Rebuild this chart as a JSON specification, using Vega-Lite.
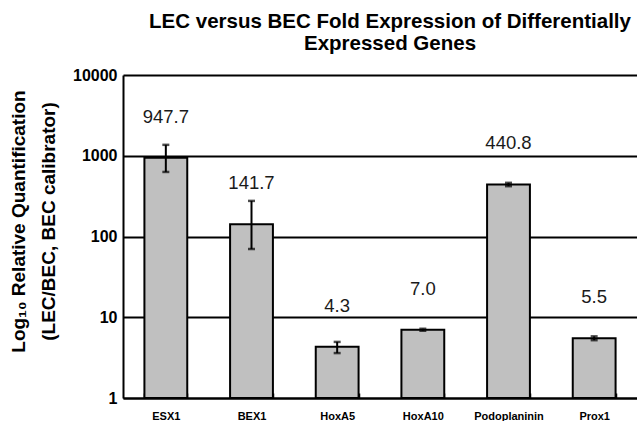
{
  "$schema": "https://vega.github.io/schema/vega-lite/v6.json",
  "autosize": {"type": "none"},
  "padding": {"left": 123, "top": 75, "right": 0, "bottom": 23},
  "width": 514,
  "height": 323,
  "background": "white",
  "title": {
    "text": ["LEC versus BEC Fold Expression of Differentially", "Expressed Genes"],
    "font": "Liberation Sans",
    "fontSize": 20.5,
    "fontWeight": "bold",
    "color": "black",
    "anchor": "middle",
    "dx": 10,
    "offset": 13,
    "lineHeight": 22
  },
  "data": {
    "values": [
      {"gene": "ESX1", "value": 947.7, "lo": 630, "hi": 1365},
      {"gene": "BEX1", "value": 141.7, "lo": 70, "hi": 276},
      {"gene": "HoxA5", "value": 4.3, "lo": 3.6, "hi": 4.95},
      {"gene": "HoxA10", "value": 7.0, "lo": 6.8, "hi": 7.2},
      {"gene": "Podoplaninin", "value": 440.8, "lo": 420, "hi": 462},
      {"gene": "Prox1", "value": 5.5, "lo": 5.2, "hi": 5.8}
    ]
  },
  "encoding": {
    "x": {
      "field": "gene",
      "type": "nominal",
      "sort": null,
      "scale": {"paddingInner": 0.5, "paddingOuter": 0.25},
      "axis": {
        "title": null,
        "labelAngle": 0,
        "labelFont": "Liberation Sans",
        "labelFontWeight": "bold",
        "labelFontSize": 11,
        "labelColor": "black",
        "labelPadding": 17,
        "tickBand": "extent",
        "tickSize": -5,
        "tickColor": "black",
        "tickWidth": 1.5,
        "domainColor": "black",
        "domainWidth": 2
      }
    }
  },
  "layer": [
    {
      "mark": {"type": "bar", "fill": "#c0c0c0", "stroke": "black", "strokeWidth": 2},
      "encoding": {
        "y": {
          "field": "value",
          "type": "quantitative",
          "scale": {"type": "log", "domain": [1, 10000]},
          "axis": {
            "values": [1, 10, 100, 1000, 10000],
            "format": "d",
            "title": ["Log₁₀ Relative Quantification", "(LEC/BEC, BEC calibrator)"],
            "titleFont": "Liberation Sans",
            "titleFontSize": 19,
            "titleFontWeight": "bold",
            "titleColor": "black",
            "titleLineHeight": 30,
            "titlePadding": 14,
            "titleY": 146,
            "labelFont": "Liberation Sans",
            "labelFontSize": 16,
            "labelFontWeight": "bold",
            "labelColor": "black",
            "labelPadding": 6,
            "tickSize": 0,
            "domainColor": "black",
            "domainWidth": 2,
            "grid": true,
            "gridColor": "black",
            "gridWidth": 2,
            "gridOpacity": 1
          }
        },
        "y2": {"datum": 1}
      }
    },
    {
      "mark": {"type": "rule", "color": "black", "strokeWidth": 2},
      "encoding": {
        "y": {"field": "lo", "type": "quantitative"},
        "y2": {"field": "hi"}
      }
    },
    {
      "mark": {"type": "tick", "color": "black", "thickness": 2.5, "size": 7},
      "encoding": {"y": {"field": "lo", "type": "quantitative"}}
    },
    {
      "mark": {"type": "tick", "color": "black", "thickness": 2.5, "size": 7},
      "encoding": {"y": {"field": "hi", "type": "quantitative"}}
    },
    {
      "mark": {"type": "text", "font": "Liberation Sans", "fontSize": 18.5, "color": "#1a1a1a", "baseline": "middle", "dy": -41},
      "encoding": {
        "y": {"field": "value", "type": "quantitative"},
        "text": {"field": "value", "type": "quantitative", "format": ".1f"}
      }
    }
  ],
  "config": {"view": {"stroke": null}}
}
